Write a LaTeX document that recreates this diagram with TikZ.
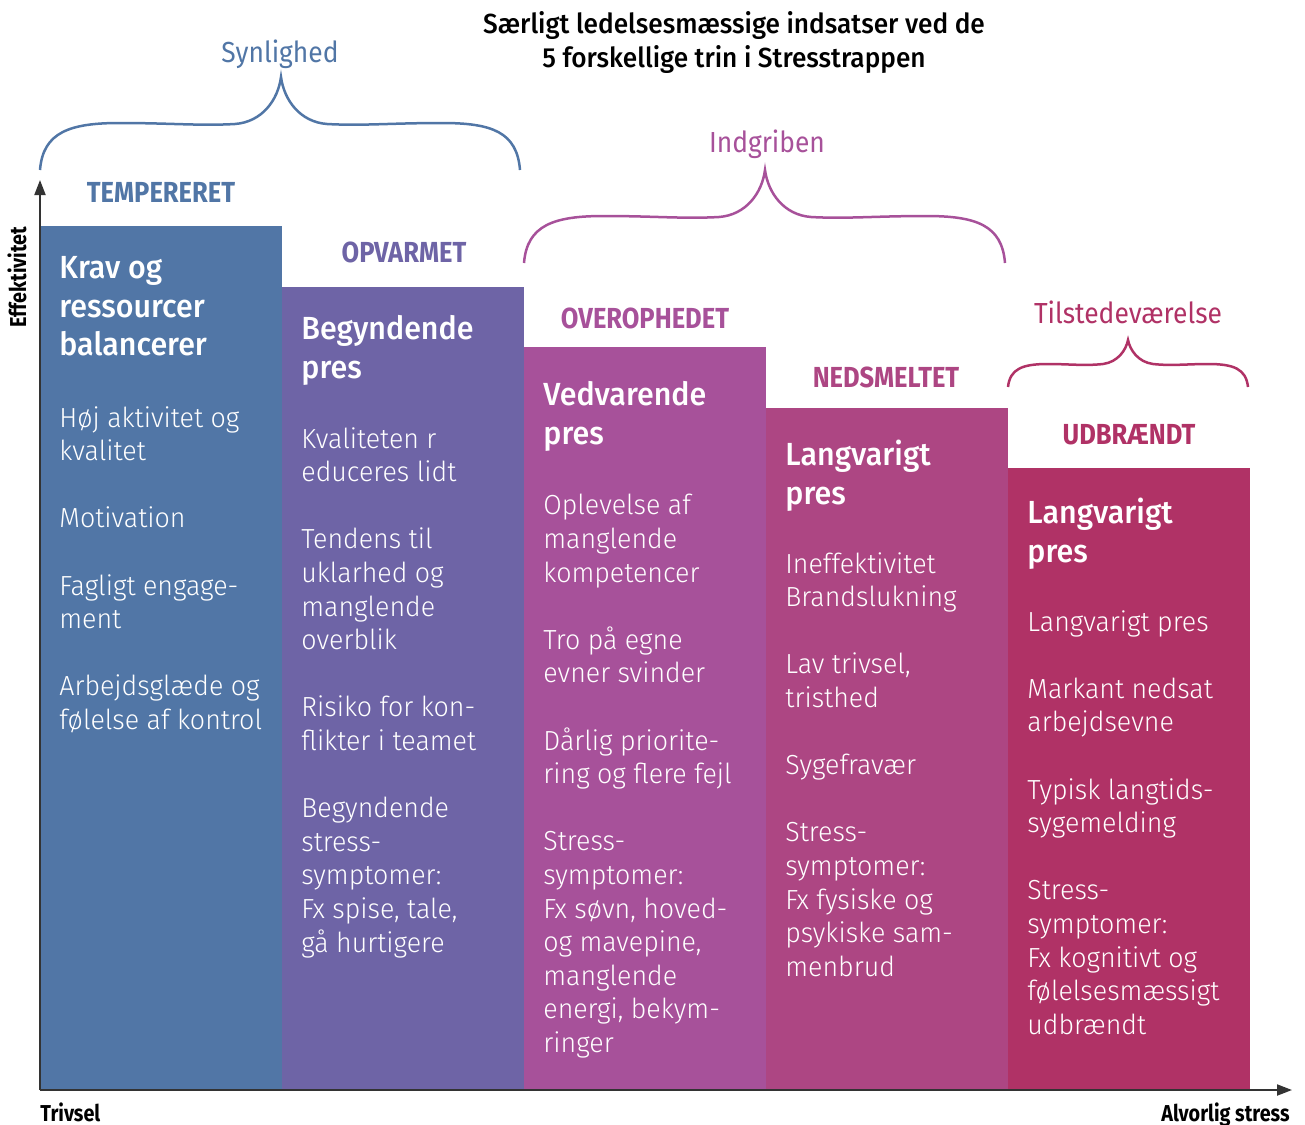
\documentclass[tikz,border=0pt]{standalone}
\usepackage{fontspec}
\setmainfont{Fira Sans}
\newfontfamily\bodyfont{Fira Sans Light}[FakeStretch=0.97]
\newfontfamily\headfont{Fira Sans Medium}[FakeStretch=0.95]
\newfontfamily\stagefont{Fira Sans Bold}[FakeStretch=0.88]
\newfontfamily\axisfont{Fira Sans Bold}[FakeStretch=0.86]
\newfontfamily\bracefont{Fira Sans}[FakeStretch=0.91]
\newfontfamily\titlefont{Fira Sans Medium}[FakeStretch=0.95]
\usetikzlibrary{positioning, arrows.meta}

\definecolor{tempblue}{HTML}{5176A6}
\definecolor{opvviolet}{HTML}{6E64A6}
\definecolor{overpurple}{HTML}{A7519A}
\definecolor{nedpink}{HTML}{AD4683}
\definecolor{udbcrimson}{HTML}{B03266}
\definecolor{axisgray}{HTML}{333333}

% one empty body line between two points
\newcommand{\skipline}{\\[16.8pt]}

\begin{document}
\begin{tikzpicture}[x=0.5pt, y=-0.5pt,
    headtxt/.style={font=\headfont\fontsize{16}{19.25}\selectfont, text=white, align=left, inner sep=0pt, anchor=north west},
    bodytxt/.style={font=\bodyfont\fontsize{13.8}{16.8}\selectfont, text=white, align=left, inner sep=0pt, anchor=north west},
    stagetxt/.style={font=\stagefont\fontsize{14.5}{16}\selectfont, inner sep=0pt},
    bracetxt/.style={font=\bracefont\fontsize{14.5}{16}\selectfont, inner sep=0pt, anchor=base},
    titletxt/.style={font=\titlefont\fontsize{13.8}{16}\selectfont, inner sep=0pt, anchor=base},
    axistxt/.style={font=\axisfont\fontsize{11.5}{13}\selectfont, text=black, inner sep=0pt},
    axis/.style={draw=axisgray, line width=1pt, -{Triangle[length=7.5pt, width=5.5pt]}},
    brace/.style={line width=1.25pt}]
        \useasboundingbox (0,0) rectangle (1305,1124);

        % Title
        \node[titletxt] (title1) at (734,33) {Særligt ledelsesmæssige indsatser ved de};
        \node[titletxt] (title2) at (734,67) {5 forskellige trin i Stresstrappen};

        % Draw the five steps
        \fill[tempblue] (40,226) rectangle (282,1090);
        \fill[opvviolet] (282,287) rectangle (524,1090);
        \fill[overpurple] (524,347) rectangle (766,1090);
        \fill[nedpink] (766,408) rectangle (1008,1090);
        \fill[udbcrimson] (1008,468) rectangle (1250,1090);

        % Step names
        \node[stagetxt, text=tempblue] (tempereret) at (161,192) {TEMPERERET};
        \node[stagetxt, text=opvviolet] (opvarmet) at (404,252) {OPVARMET};
        \node[stagetxt, text=overpurple] (overophedet) at (645,318) {OVEROPHEDET};
        \node[stagetxt, text=nedpink] (nedsmeltet) at (886,377) {NEDSMELTET};
        \node[stagetxt, text=udbcrimson] (udbraendt) at (1129,435) {UDBRÆNDT};

        % Text in step 1
        \node[headtxt] (krav) at (59,256) {Krav og\\ressourcer\\balancerer};
        \node[bodytxt] (kravbody) at (59,406) {Høj aktivitet og\\kvalitet\skipline
            Motivation\skipline
            Fagligt engage-\\ment\skipline
            Arbejdsglæde og\\følelse af kontrol};

        % Text in step 2
        \node[headtxt] (begpres) at (301,315) {Begyndende\\pres};
        \node[bodytxt] (begbody) at (301,427) {Kvaliteten r\\educeres lidt\skipline
            Tendens til\\uklarhed og\\manglende\\overblik\skipline
            Risiko for kon-\\flikter i teamet\skipline
            Begyndende\\stress-\\symptomer:\\Fx spise, tale,\\gå hurtigere};

        % Text in step 3
        \node[headtxt] (vedpres) at (543,381) {Vedvarende\\pres};
        \node[bodytxt] (vedbody) at (543,494) {Oplevelse af\\manglende\\kompetencer\skipline
            Tro på egne\\evner svinder\skipline
            Dårlig priorite-\\ring og flere fejl\skipline
            Stress-\\symptomer:\\Fx søvn, hoved-\\og mavepine,\\manglende\\energi, bekym-\\ringer};

        % Text in step 4
        \node[headtxt] (langpres) at (785,440) {Langvarigt\\pres};
        \node[bodytxt] (langbody) at (785,552) {Ineffektivitet\\Brandslukning\skipline
            Lav trivsel,\\tristhed\skipline
            Sygefravær\skipline
            Stress-\\symptomer:\\Fx fysiske og\\psykiske sam-\\menbrud};

        % Text in step 5
        \node[headtxt] (udbpres) at (1027,498) {Langvarigt\\pres};
        \node[bodytxt] (udbbody) at (1027,610) {Langvarigt pres\skipline
            Markant nedsat\\arbejdsevne\skipline
            Typisk langtids-\\sygemelding\skipline
            Stress-\\symptomer:\\Fx kognitivt og\\følelsesmæssigt\\udbrændt};

        % Braces over the steps
        \draw[brace, tempblue] (40,170) .. controls (43,132) and (70,123) .. (120,123)
            .. controls (170,123) and (200,126) .. (235,124)
            .. controls (262,122) and (278,100) .. (281,77)
            .. controls (284,100) and (300,122) .. (327,124)
            .. controls (362,126) and (392,123) .. (442,123)
            .. controls (492,123) and (517,132) .. (520,170);
        \node[bracetxt, text=tempblue] (synlighed) at (280,62) {Synlighed};

        \draw[brace, overpurple] (524,263) .. controls (527,225) and (554,216) .. (604,216)
            .. controls (654,216) and (684,219) .. (719,217)
            .. controls (746,215) and (762,193) .. (765,170)
            .. controls (768,193) and (784,215) .. (811,217)
            .. controls (846,219) and (876,216) .. (926,216)
            .. controls (976,216) and (1002,225) .. (1005,263);
        \node[bracetxt, text=overpurple] (indgriben) at (767,152) {Indgriben};

        \draw[brace, udbcrimson] (1008,387) .. controls (1010,369) and (1022,364) .. (1048,364)
            .. controls (1068,364) and (1085,366) .. (1103,364)
            .. controls (1118,362) and (1126,350) .. (1128,340)
            .. controls (1130,350) and (1138,362) .. (1153,364)
            .. controls (1171,366) and (1188,364) .. (1208,364)
            .. controls (1234,364) and (1246,369) .. (1248,387);
        \node[bracetxt, text=udbcrimson] (tilstede) at (1128,323) {Tilstedeværelse};

        % Axes
        \coordinate (origin) at (40,1090);
        \coordinate (ytop) at (40,180);
        \coordinate (xend) at (1292,1090);
        \draw[axis] (origin) -- (ytop);
        \draw[axis] (origin) -- (xend);
        \node[axistxt, rotate=90] (effekt) at (17,277) {Effektivitet};
        \node[axistxt, anchor=base west] (trivsel) at (40,1121) {Trivsel};
        \node[axistxt, anchor=base east] (alvorlig) at (1290,1121) {Alvorlig stress};
\end{tikzpicture}
\end{document}
